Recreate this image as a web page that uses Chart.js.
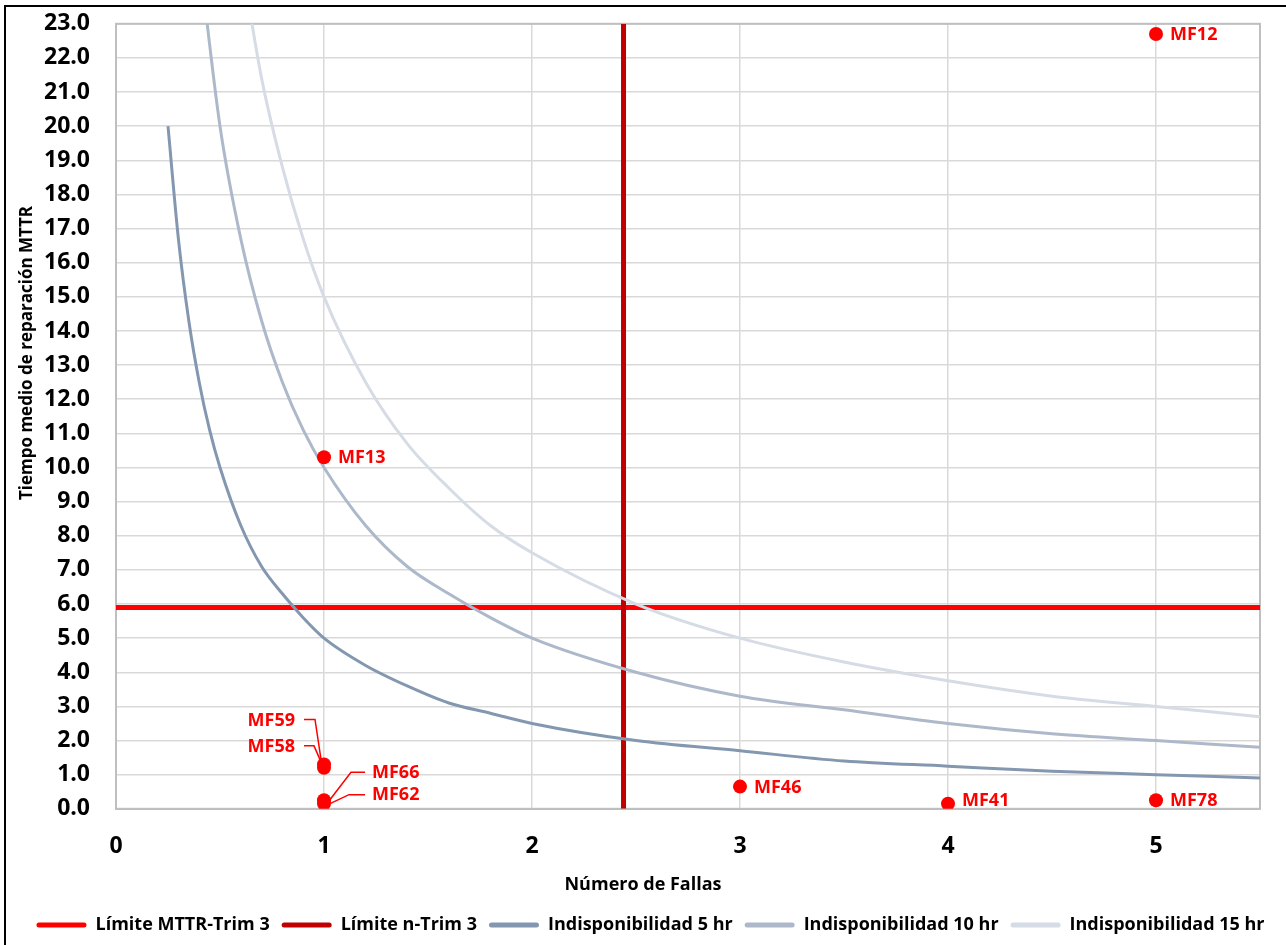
<!DOCTYPE html>
<html lang="es">
<head>
<meta charset="UTF-8">
<title>MTTR vs Número de Fallas</title>
<script src="https://cdn.jsdelivr.net/npm/chart.js"></script>
<style>
    body { margin: 0; background: #fff; }
</style>
</head>
<body>
<canvas id="mttrChart" width="1286" height="945"></canvas>
<script>
// equipos: numero de fallas vs MTTR
const nombres = ['MF12', 'MF13', 'MF59', 'MF58', 'MF66', 'MF62', 'MF46', 'MF41', 'MF78'];
const fallas  = [5, 1, 1, 1, 1, 1, 3, 4, 5];
const mttr    = [22.7, 10.3, 1.3, 1.2, 0.25, 0.15, 0.65, 0.15, 0.25];

// curvas de indisponibilidad
const x5hr  = [0.25, 0.3, 0.35, 0.4, 0.45, 0.5, 0.6, 0.7, 0.8, 0.9, 1, 1.2, 1.4, 1.6, 1.8, 2, 2.5, 3, 3.5, 4, 4.5, 5, 5.5];
const y5hr  = [20, 16.7, 14.3, 12.5, 11.1, 10, 8.3, 7.1, 6.3, 5.6, 5, 4.2, 3.6, 3.1, 2.8, 2.5, 2, 1.7, 1.4, 1.25, 1.1, 1, 0.9];
const x10hr = [0.4, 0.5, 0.6, 0.7, 0.8, 0.9, 1, 1.2, 1.4, 1.6, 1.8, 2, 2.5, 3, 3.5, 4, 4.5, 5, 5.5];
const y10hr = [25, 20, 16.7, 14.3, 12.5, 11.1, 10, 8.3, 7.1, 6.3, 5.6, 5, 4, 3.3, 2.9, 2.5, 2.2, 2, 1.8];
const x15hr = [0.6, 0.7, 0.8, 0.9, 1, 1.2, 1.4, 1.6, 1.8, 2, 2.5, 3, 3.5, 4, 4.5, 5, 5.5];
const y15hr = [25, 21.4, 18.8, 16.7, 15, 12.5, 10.7, 9.4, 8.3, 7.5, 6, 5, 4.3, 3.75, 3.3, 3, 2.7];

// limites del trimestre
const limiteMTTR = 5.9;
const limiteN = 2.44;

const xMax = 5.5;
const yMax = 23;
const tituloX = 'Número de Fallas';
const tituloY = 'Tiempo medio de reparación MTTR';

const puntos = (xs, ys) => xs.map((x, i) => ({ x: x, y: ys[i] }));

const fuente = "'Open Sans'";

// posicion de las etiquetas con guia (px respecto al punto)
const guias = {
    MF59: { dx: -29, dy: -44, align: 'right', linea: [[-20, -45], [-9, -45], [-3, -5]] },
    MF58: { dx: -29, dy: -21, align: 'right', linea: [[-20, -22], [-10, -22], [-3, -6]] },
    MF66: { dx: 48, dy: -27, align: 'left', linea: [[4, 2], [27, -28], [41, -28]] },
    MF62: { dx: 48, dy: -9, align: 'left', linea: [[6, 0], [25, -9], [41, -9]] },
    MF41: { dx: 14, dy: -3, align: 'left' }
};

const etiquetas = {
    id: 'etiquetas',
    afterDatasetsDraw(chart) {
        const ctx = chart.ctx;
        const meta = chart.getDatasetMeta(0);
        ctx.save();
        ctx.font = 'bold 18px ' + fuente;
        ctx.fillStyle = '#FF0000';
        ctx.strokeStyle = '#FF0000';
        ctx.lineWidth = 1.5;
        ctx.textBaseline = 'middle';
        meta.data.forEach((pt, i) => {
            const g = guias[nombres[i]] || { dx: 14, dy: 1, align: 'left' };
            if (g.linea) {
                ctx.beginPath();
                g.linea.forEach((p, j) => {
                    if (j === 0) ctx.moveTo(pt.x + p[0], pt.y + p[1]);
                    else ctx.lineTo(pt.x + p[0], pt.y + p[1]);
                });
                ctx.stroke();
            }
            ctx.textAlign = g.align;
            ctx.fillText(nombres[i], pt.x + g.dx, pt.y + g.dy);
        });
        ctx.restore();
    }
};

// marco: fondo, borde exterior, borde del area de trazado y titulos de ejes
const marco = {
    id: 'marco',
    afterLayout(chart) {
        // la leyenda de Excel queda centrada en todo el grafico
        if (chart.legend) {
            chart.legend.left += 18;
            chart.legend.right += 18;
        }
    },
    beforeDraw(chart) {
        const ctx = chart.ctx;
        ctx.save();
        ctx.fillStyle = '#fff';
        ctx.fillRect(0, 0, chart.width, chart.height);
        ctx.strokeStyle = '#000';
        ctx.lineWidth = 2;
        ctx.beginPath();
        ctx.moveTo(5, chart.height);
        ctx.lineTo(5, 6);
        ctx.lineTo(chart.width, 6);
        ctx.stroke();
        ctx.fillStyle = '#000';
        ctx.textBaseline = 'middle';
        // titulo X centrado en el grafico, no en el eje
        ctx.font = 'bold 18px ' + fuente;
        ctx.textAlign = 'center';
        ctx.fillText(tituloX, chart.width / 2, 885);
        // titulo Y
        ctx.translate(27, 206);
        ctx.rotate(-Math.PI / 2);
        ctx.font = 'bold 17px ' + fuente;
        ctx.textAlign = 'right';
        ctx.fillText(tituloY, 0, 0);
        ctx.restore();
    },
    beforeDatasetsDraw(chart) {
        const a = chart.chartArea;
        const ctx = chart.ctx;
        ctx.save();
        ctx.strokeStyle = '#BFBFBF';
        ctx.lineWidth = 2;
        ctx.strokeRect(a.left, a.top, a.right - a.left, a.bottom - a.top);
        ctx.restore();
    }
};

new Chart(document.getElementById('mttrChart'), {
    type: 'scatter',
    data: {
        datasets: [
            {
                label: 'Equipos',
                data: puntos(fallas, mttr),
                backgroundColor: '#FF0000',
                borderWidth: 0,
                pointRadius: 7,
                order: 0
            },
            {
                label: 'Límite MTTR-Trim 3',
                data: [{ x: 0, y: limiteMTTR }, { x: xMax, y: limiteMTTR }],
                showLine: true,
                borderColor: '#FF0000',
                backgroundColor: '#FF0000',
                borderWidth: 5,
                pointRadius: 0,
                order: 3
            },
            {
                label: 'Límite n-Trim 3',
                data: [{ x: limiteN, y: 0 }, { x: limiteN, y: yMax }],
                showLine: true,
                borderColor: '#C00000',
                backgroundColor: '#C00000',
                borderWidth: 5,
                pointRadius: 0,
                order: 2
            },
            {
                label: 'Indisponibilidad 5 hr',
                data: puntos(x5hr, y5hr),
                showLine: true,
                borderColor: '#8497B0',
                backgroundColor: '#8497B0',
                borderWidth: 3,
                pointRadius: 0,
                cubicInterpolationMode: 'monotone',
                order: 1
            },
            {
                label: 'Indisponibilidad 10 hr',
                data: puntos(x10hr, y10hr),
                showLine: true,
                borderColor: '#ADB9CA',
                backgroundColor: '#ADB9CA',
                borderWidth: 3,
                pointRadius: 0,
                cubicInterpolationMode: 'monotone',
                order: 1
            },
            {
                label: 'Indisponibilidad 15 hr',
                data: puntos(x15hr, y15hr),
                showLine: true,
                borderColor: '#D6DCE5',
                backgroundColor: '#D6DCE5',
                borderWidth: 3,
                pointRadius: 0,
                cubicInterpolationMode: 'monotone',
                order: 1
            }
        ]
    },
    options: {
        responsive: false,
        animation: false,
        layout: { padding: { left: 5, right: 26, top: 10, bottom: 1 } },
        scales: {
            x: {
                type: 'linear',
                min: 0,
                max: xMax,
                grid: { color: '#D9D9D9', lineWidth: 1.5, drawTicks: false },
                border: { color: '#BFBFBF', width: 2 },
                ticks: {
                    stepSize: 1,
                    includeBounds: false,
                    padding: 24,
                    color: '#000',
                    font: { family: fuente, size: 23, weight: 'bold' }
                },
                title: {
                    // solo reserva el espacio, el texto se dibuja en el plugin
                    display: true,
                    text: tituloX,
                    color: 'rgba(0,0,0,0)',
                    padding: { top: -8, bottom: 6 },
                    font: { family: fuente, size: 18, weight: 'bold' }
                }
            },
            y: {
                min: 0,
                max: yMax,
                afterFit: scale => { scale.width = 111; },
                grid: { color: '#D9D9D9', lineWidth: 1.5, drawTicks: true, tickLength: 16, tickColor: 'rgba(0,0,0,0)' },
                border: { color: '#BFBFBF', width: 2 },
                ticks: {
                    stepSize: 1,
                    padding: 10,
                    color: '#000',
                    font: { family: fuente, size: 23, weight: 'bold' },
                    callback: v => v.toFixed(1)
                }
            }
        },
        plugins: {
            tooltip: { enabled: false },
            legend: {
                position: 'bottom',
                labels: {
                    filter: item => item.datasetIndex !== 0,
                    sort: (a, b) => a.datasetIndex - b.datasetIndex,
                    boxWidth: 50,
                    boxHeight: 5,
                    padding: 12,
                    color: '#000',
                    font: { family: fuente, size: 18, weight: 'bold' },
                    generateLabels(chart) {
                        const items = Chart.defaults.plugins.legend.labels.generateLabels(chart);
                        items.forEach(it => {
                            it.fillStyle = it.strokeStyle;
                            it.lineWidth = 0;
                            it.borderRadius = 2.5;
                        });
                        return items;
                    }
                }
            }
        }
    },
    plugins: [marco, etiquetas]
});
</script>
</body>
</html>
